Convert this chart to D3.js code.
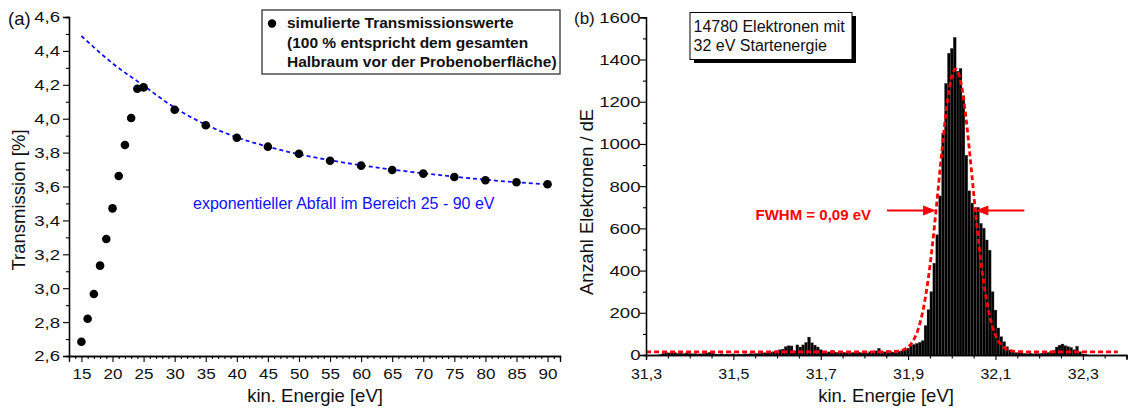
<!DOCTYPE html>
<html>
<head>
<meta charset="utf-8">
<script src="https://cdn.jsdelivr.net/npm/d3@7"></script>
<style>
  body { margin: 0; background: #fff; }
  svg { display: block; font-family: Arial, "Liberation Sans", sans-serif; }
</style>
</head>
<body>
<svg id="chart" width="1128" height="409"></svg>
<script>
// ---------- Panel (a): simulated transmission vs. kinetic energy ----------
const energyA = [15, 16, 17, 18, 19, 20, 21, 22, 23, 24, 25, 30, 35, 40, 45, 50, 55, 60, 65, 70, 75, 80, 85, 90];
const transmission = [2.684, 2.82, 2.966, 3.133, 3.29, 3.471, 3.662, 3.845, 4.004, 4.177, 4.185,
                      4.053, 3.961, 3.888, 3.835, 3.793, 3.752, 3.723, 3.697, 3.676, 3.656, 3.637, 3.625, 3.613];
// exponential decay fit (25 - 90 eV), sampled every 5 eV
const fitEnergy = [15, 20, 25, 30, 35, 40, 45, 50, 55, 60, 65, 70, 75, 80, 85, 90];
const fitTransmission = [4.488, 4.327, 4.195, 4.065, 3.965, 3.89, 3.835, 3.79, 3.755, 3.725, 3.70, 3.678, 3.658, 3.64, 3.625, 3.612];
const xTicksA = [15, 20, 25, 30, 35, 40, 45, 50, 55, 60, 65, 70, 75, 80, 85, 90];
const xMinorA = d3.range(14, 92).filter(v => v % 5 !== 0);
const yTicksA = [2.6, 2.8, 3.0, 3.2, 3.4, 3.6, 3.8, 4.0, 4.2, 4.4, 4.6];
const yMinorA = [2.7, 2.9, 3.1, 3.3, 3.5, 3.7, 3.9, 4.1, 4.3, 4.5];
const legendLines = ["simulierte Transmissionswerte", "(100 % entspricht dem gesamten", "Halbraum vor der Probenoberfläche)"];

// ---------- Panel (b): energy spectrum of the electrons ----------
const histStart = 31.303;
const binWidth = 0.00667;
const counts = [
  0, 0, 0, 0, 2,
  8, 12, 10, 11, 12, 8, 9, 7, 10, 8,
  6, 7, 5, 6, 8, 10, 13, 9, 5, 4,
  6, 3, 5, 4, 6, 3, 5, 4, 6, 5,
  7, 6, 8,
  8, 10, 11, 12, 14, 16, 20, 25, 28, 40,
  44, 43, 20, 48, 38, 48, 60, 85, 58, 47,
  38, 25, 17, 12,
  15, 22, 14, 12, 10, 13, 11, 9, 12, 10,
  14, 11, 13, 10, 16, 14, 20, 32, 18, 15,
  20, 17, 14, 12, 18, 20,
  25, 32, 45, 50, 55, 60, 68,
  140, 215, 300, 435, 570,
  754, 1050, 1287, 1430, 1453, 1505, 1345, 1358, 1228, 947, 778,
  720, 690, 700, 624, 601, 545, 497, 300, 213, 128, 87, 63, 39, 24, 15, 12, 10,
  10, 8, 7, 9, 6, 8, 7, 9, 10, 12, 15, 22, 38, 47, 52, 44, 40, 36, 25, 42, 16, 5, 3
];
// Gaussian fit of the main peak
const gaussCenter = 32.009;
const gaussHeight = 1340;
const gaussBase = 15;
const fwhm = 0.09;
const xTicksB = [31.3, 31.5, 31.7, 31.9, 32.1, 32.3];
const xMinorB = [31.35, 31.4, 31.45, 31.55, 31.6, 31.65, 31.75, 31.8, 31.85, 31.95, 32.0, 32.05, 32.15, 32.2, 32.25, 32.35, 32.4];
const yTicksB = [0, 200, 400, 600, 800, 1000, 1200, 1400, 1600];
const yMinorB = [100, 300, 500, 700, 900, 1100, 1300, 1500];
const infoLines = ["14780 Elektronen mit", "32 eV Startenergie"];

const svg = d3.select("#chart");
const comma = f => v => d3.format(f)(v).replace(".", ",");

function styleAxis(g) {
  g.select(".domain").attr("stroke", "#000").attr("stroke-width", 1.3);
  g.selectAll(".tick line").attr("stroke", "#000").attr("stroke-width", 1.1);
  g.selectAll(".tick text").attr("fill", "#111").style("font-size", "15.5px")
    .style("font-family", "Arial, 'Liberation Sans', sans-serif");
}
// widen vertical-axis labels, keeping their right edge at `gap` from the axis
function widenLeft(sx, gap) {
  return g => g.selectAll(".tick text").attr("x", -gap / sx).attr("transform", `scale(${sx},1)`);
}
function widenBottom(sx) {
  return g => g.selectAll(".tick text").attr("transform", `scale(${sx},1)`);
}

// ===== Panel (a) =====
const xA = d3.scaleLinear().domain([13, 92]).range([69, 560]);
const yA = d3.scaleLinear().domain([2.6, 4.6]).range([356, 17]);
const gA = svg.append("g");

gA.append("g").attr("transform", "translate(0,356)")
  .call(d3.axisBottom(xA).tickValues(xMinorA).tickSize(3).tickFormat(""))
  .call(styleAxis);
gA.append("g").attr("transform", "translate(0,356)")
  .call(d3.axisBottom(xA).tickValues(xTicksA).tickSize(6).tickPadding(6).tickFormat(d3.format("d")))
  .call(styleAxis).call(widenBottom(1.1));
gA.append("g").attr("transform", "translate(69,0)")
  .call(d3.axisLeft(yA).tickValues(yMinorA).tickSize(3).tickFormat(""))
  .call(styleAxis);
gA.append("g").attr("transform", "translate(69,0)")
  .call(d3.axisLeft(yA).tickValues(yTicksA).tickSize(6).tickFormat(comma(".1f")))
  .call(styleAxis).call(widenLeft(1.2, 9));

// fitted exponential decay
gA.append("path")
  .datum(fitEnergy.map((e, i) => [e, fitTransmission[i]]))
  .attr("fill", "none").attr("stroke", "#1010ff").attr("stroke-width", 1.8)
  .attr("stroke-dasharray", "4,3")
  .attr("d", d3.line().x(d => xA(d[0])).y(d => yA(d[1])).curve(d3.curveMonotoneX));

gA.append("g").selectAll("circle")
  .data(energyA.map((e, i) => [e, transmission[i]]))
  .join("circle")
  .attr("cx", d => xA(d[0])).attr("cy", d => yA(d[1])).attr("r", 4.3).attr("fill", "#000");

gA.append("text").attr("x", 193).attr("y", 209).attr("fill", "#1010ff")
  .style("font-size", "16px").text("exponentieller Abfall im Bereich 25 - 90 eV");

// legend
gA.append("rect").attr("x", 262).attr("y", 10).attr("width", 298).attr("height", 64)
  .attr("fill", "#fff").attr("stroke", "#333").attr("stroke-width", 1.3);
gA.append("circle").attr("cx", 272).attr("cy", 23.5).attr("r", 4.2).attr("fill", "#000");
gA.append("g").selectAll("text").data(legendLines).join("text")
  .attr("x", 287).attr("y", (d, i) => 28 + i * 19.5)
  .style("font-size", "15.5px").style("font-weight", "bold").attr("fill", "#111")
  .text(d => d);

gA.append("text").attr("x", 8).attr("y", 25).style("font-size", "18.5px").attr("fill", "#111").text("(a)");
gA.append("text").attr("transform", "translate(25,200) rotate(-90)").attr("text-anchor", "middle")
  .style("font-size", "18.5px").attr("fill", "#111").text("Transmission [%]");
gA.append("text").attr("x", 315).attr("y", 402).attr("text-anchor", "middle")
  .style("font-size", "18.5px").attr("fill", "#111").text("kin. Energie [eV]");

// ===== Panel (b) =====
const xB = d3.scaleLinear().domain([31.3, 32.4]).range([646, 1126.5]);
const yB = d3.scaleLinear().domain([0, 1600]).range([355, 17.3]);
const gB = svg.append("g");

// histogram bars
gB.append("g").selectAll("rect")
  .data(counts.map((c, k) => ({ x0: histStart + k * binWidth, x1: histStart + (k + 1) * binWidth, c })))
  .join("rect")
  .attr("x", d => xB(d.x0)).attr("width", d => xB(d.x1) - xB(d.x0))
  .attr("y", d => yB(d.c)).attr("height", d => yB(0) - yB(d.c))
  .attr("fill", "#000").attr("stroke", "#5a5a5a").attr("stroke-width", 0.3);

// Gaussian fit
const sigma = fwhm / (2 * Math.sqrt(2 * Math.log(2)));
const gaussPts = d3.range(31.3, 32.381, 0.002).map(e =>
  [e, gaussBase + gaussHeight * Math.exp(-0.5 * Math.pow((e - gaussCenter) / sigma, 2))]);
gB.append("path").datum(gaussPts)
  .attr("fill", "none").attr("stroke", "#ff0000").attr("stroke-width", 2.8)
  .attr("stroke-dasharray", "5,3")
  .attr("d", d3.line().x(d => xB(d[0])).y(d => yB(d[1])));

// axes
gB.append("g").attr("transform", "translate(0,355)")
  .call(d3.axisBottom(xB).tickValues(xMinorB).tickSize(3.5).tickFormat(""))
  .call(styleAxis);
gB.append("g").attr("transform", "translate(0,355)")
  .call(d3.axisBottom(xB).tickValues(xTicksB).tickSize(5).tickPadding(8).tickFormat(comma(".1f")))
  .call(styleAxis).call(widenBottom(1.03));
gB.append("g").attr("transform", "translate(646,0)")
  .call(d3.axisLeft(yB).tickValues(yMinorB).tickSize(3).tickFormat(""))
  .call(styleAxis);
gB.append("g").attr("transform", "translate(646,0)")
  .call(d3.axisLeft(yB).tickValues(yTicksB).tickSize(6).tickFormat(d3.format("d")))
  .call(styleAxis).call(widenLeft(1.2, 5.5));

// FWHM arrows
const halfLevel = gaussBase + gaussHeight / 2;
const yArrow = yB(halfLevel);
const xLeft = xB(gaussCenter - fwhm / 2), xRight = xB(gaussCenter + fwhm / 2);
function arrow(xTip, dir) {
  const tail = xTip - dir * 49;
  gB.append("line").attr("x1", tail).attr("x2", xTip - dir * 8).attr("y1", yArrow).attr("y2", yArrow)
    .attr("stroke", "#ff0000").attr("stroke-width", 2);
  gB.append("path")
    .attr("d", `M${xTip},${yArrow} L${xTip - dir * 13},${yArrow - 5} L${xTip - dir * 13},${yArrow + 5} Z`)
    .attr("fill", "#ff0000");
}
arrow(xLeft, 1);
arrow(xRight, -1);
gB.append("text").attr("x", 871).attr("y", 220).attr("text-anchor", "end")
  .style("font-size", "15px").style("font-weight", "bold").attr("fill", "#ff0000")
  .text("FWHM = " + comma(".2f")(fwhm) + " eV");

// info box with shadow
gB.append("rect").attr("x", 694).attr("y", 16).attr("width", 162).attr("height", 47).attr("fill", "#000");
gB.append("rect").attr("x", 690).attr("y", 12.5).attr("width", 162).attr("height", 47)
  .attr("fill", "#fff").attr("stroke", "#000").attr("stroke-width", 1);
gB.append("g").selectAll("text").data(infoLines).join("text")
  .attr("x", 693.5).attr("y", (d, i) => 31.5 + i * 19)
  .style("font-size", "16px").attr("fill", "#111").text(d => d);

gB.append("text").attr("x", 574).attr("y", 24).style("font-size", "17px").attr("fill", "#111").text("(b)");
gB.append("text").attr("transform", "translate(593,202) rotate(-90)").attr("text-anchor", "middle")
  .style("font-size", "18.3px").attr("fill", "#111").text("Anzahl Elektronen / dE");
gB.append("text").attr("x", 886).attr("y", 402).attr("text-anchor", "middle")
  .style("font-size", "18.5px").attr("fill", "#111").text("kin. Energie [eV]");
</script>
</body>
</html>
